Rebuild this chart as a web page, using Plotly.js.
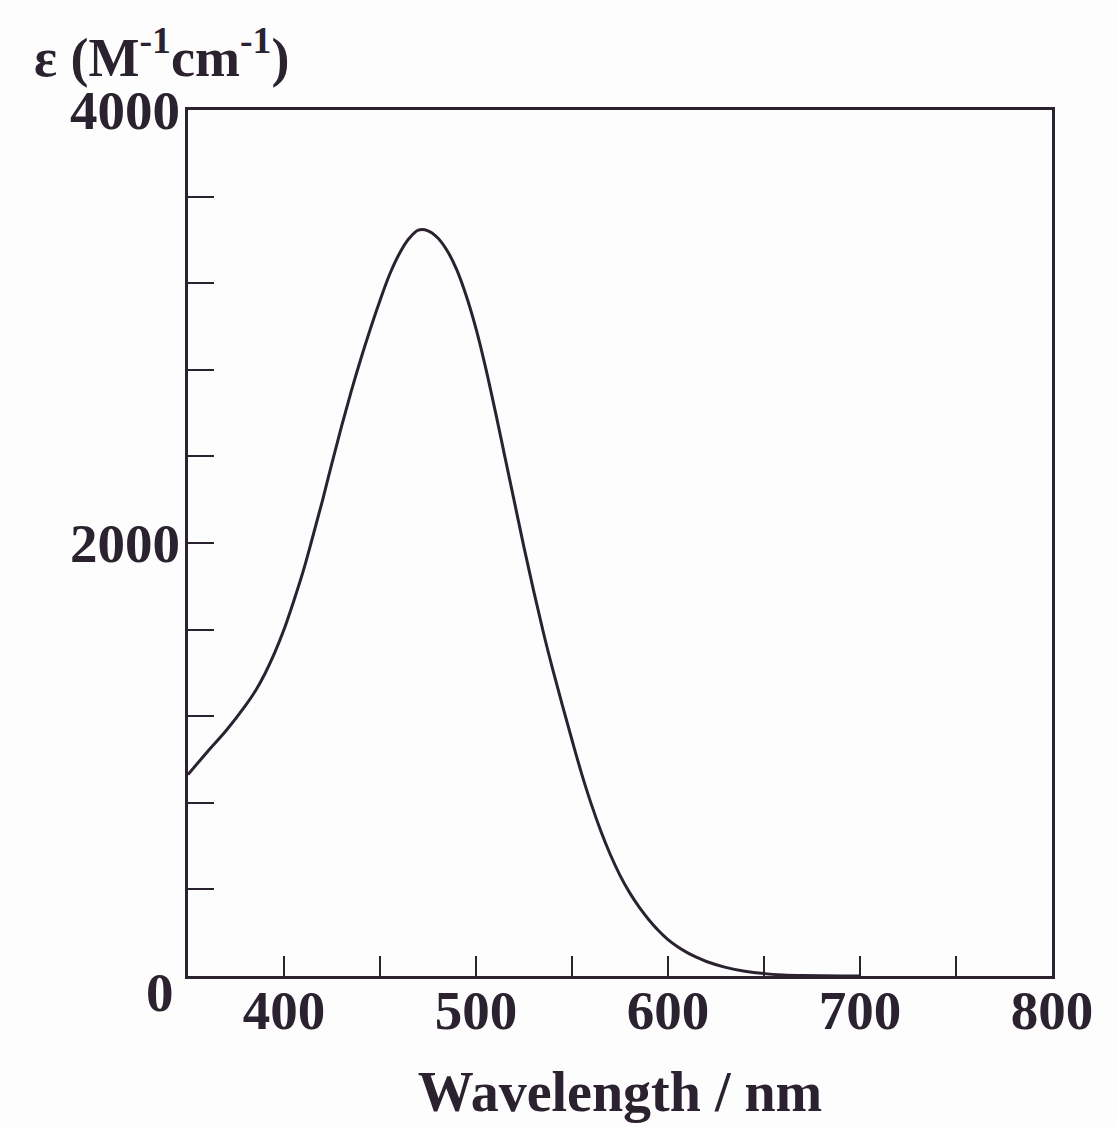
<!DOCTYPE html>
<html>
<head>
<meta charset="utf-8">
<script src="https://cdn.plot.ly/plotly-3.0.1.min.js"></script>
<style>
  html, body { margin: 0; padding: 0; background: #fdfdfd; }
  #chart { width: 1118px; height: 1127px; }
</style>
</head>
<body>
<div id="chart"></div>
<script>
// Absorption spectrum: molar absorptivity vs wavelength
const wavelength = [350, 360, 370, 380, 385, 390, 395, 400, 405, 410, 415, 420, 425, 430, 435, 440,
                    445, 450, 455, 460, 465, 470, 475, 480, 485, 490, 495, 500, 505, 510, 515, 520,
                    525, 530, 535, 540, 545, 550, 555, 560, 565, 570, 575, 580, 585, 590, 595, 600,
                    605, 610, 615, 620, 630, 640, 650, 660, 670, 680, 690, 700];
const epsilon = [930, 1035, 1135, 1250, 1315, 1395, 1490, 1600, 1730, 1870, 2030, 2195, 2370, 2540, 2700, 2850,
                 2990, 3120, 3240, 3335, 3405, 3445, 3442, 3410, 3350, 3262, 3140, 2990, 2810, 2610, 2400, 2190,
                 1980, 1780, 1590, 1415, 1250, 1090, 935, 795, 670, 560, 465, 385, 318, 260, 210, 168,
                 135, 108, 86, 67, 40, 22, 11, 5, 2, 0.7, 0.2, 0];

const xTickVals = [400, 450, 500, 550, 600, 650, 700, 750, 800];
const xTickText = ['400', '', '500', '', '600', '', '700', '', '800'];
const yTickVals = [0, 400, 800, 1200, 1600, 2000, 2400, 2800, 3200, 3600, 4000];
const yTickText = ['', '', '', '', '', '2000', '', '', '', '', '4000'];

const ink = '#2b2230';
const serif = 'Liberation Serif, Times New Roman, serif';

const trace = {
  x: wavelength,
  y: epsilon,
  type: 'scatter',
  mode: 'lines',
  line: { color: ink, width: 3, shape: 'spline', smoothing: 1 },
  hoverinfo: 'skip'
};

const layout = {
  width: 1118,
  height: 1127,
  margin: { l: 188, r: 66, t: 110, b: 151 },
  paper_bgcolor: '#fdfdfd',
  plot_bgcolor: '#fdfdfd',
  showlegend: false,
  font: { family: serif, color: ink },
  xaxis: {
    range: [350, 800],
    tickmode: 'array',
    tickvals: xTickVals,
    ticktext: xTickText,
    ticks: 'inside',
    ticklen: 20,
    tickwidth: 2,
    tickcolor: ink,
    ticklabelstandoff: -16,
    showline: true,
    linecolor: ink,
    linewidth: 3,
    mirror: true,
    showgrid: false,
    zeroline: false,
    tickfont: { family: serif, size: 55, color: ink, weight: 'bold' },
    title: {
      text: '<b>Wavelength / nm</b>',
      font: { family: serif, size: 56, color: ink },
      standoff: 32
    }
  },
  yaxis: {
    range: [0, 4000],
    tickmode: 'array',
    tickvals: yTickVals,
    ticktext: yTickText,
    ticks: 'inside',
    ticklen: 26,
    tickwidth: 2,
    tickcolor: ink,
    ticklabelstandoff: -6,
    showline: true,
    linecolor: ink,
    linewidth: 3,
    mirror: true,
    showgrid: false,
    zeroline: false,
    tickfont: { family: serif, size: 55, color: ink, weight: 'bold' }
  },
  annotations: [
    {
      text: '<b>0</b>',
      xref: 'paper', yref: 'y',
      x: 0, y: 0,
      xanchor: 'right', yanchor: 'middle',
      xshift: -12, yshift: -16,
      showarrow: false,
      font: { family: serif, size: 55, color: ink }
    },
    {
      text: '<b>ε (M<sup>-1</sup>cm<sup>-1</sup>)</b>',
      xref: 'paper', yref: 'paper',
      x: 0, y: 1,
      xanchor: 'center', yanchor: 'bottom',
      xshift: -27, yshift: 20,
      showarrow: false,
      font: { family: serif, size: 54, color: ink }
    }
  ]
};

Plotly.newPlot('chart', [trace], layout, { staticPlot: true, displayModeBar: false });
</script>
</body>
</html>
